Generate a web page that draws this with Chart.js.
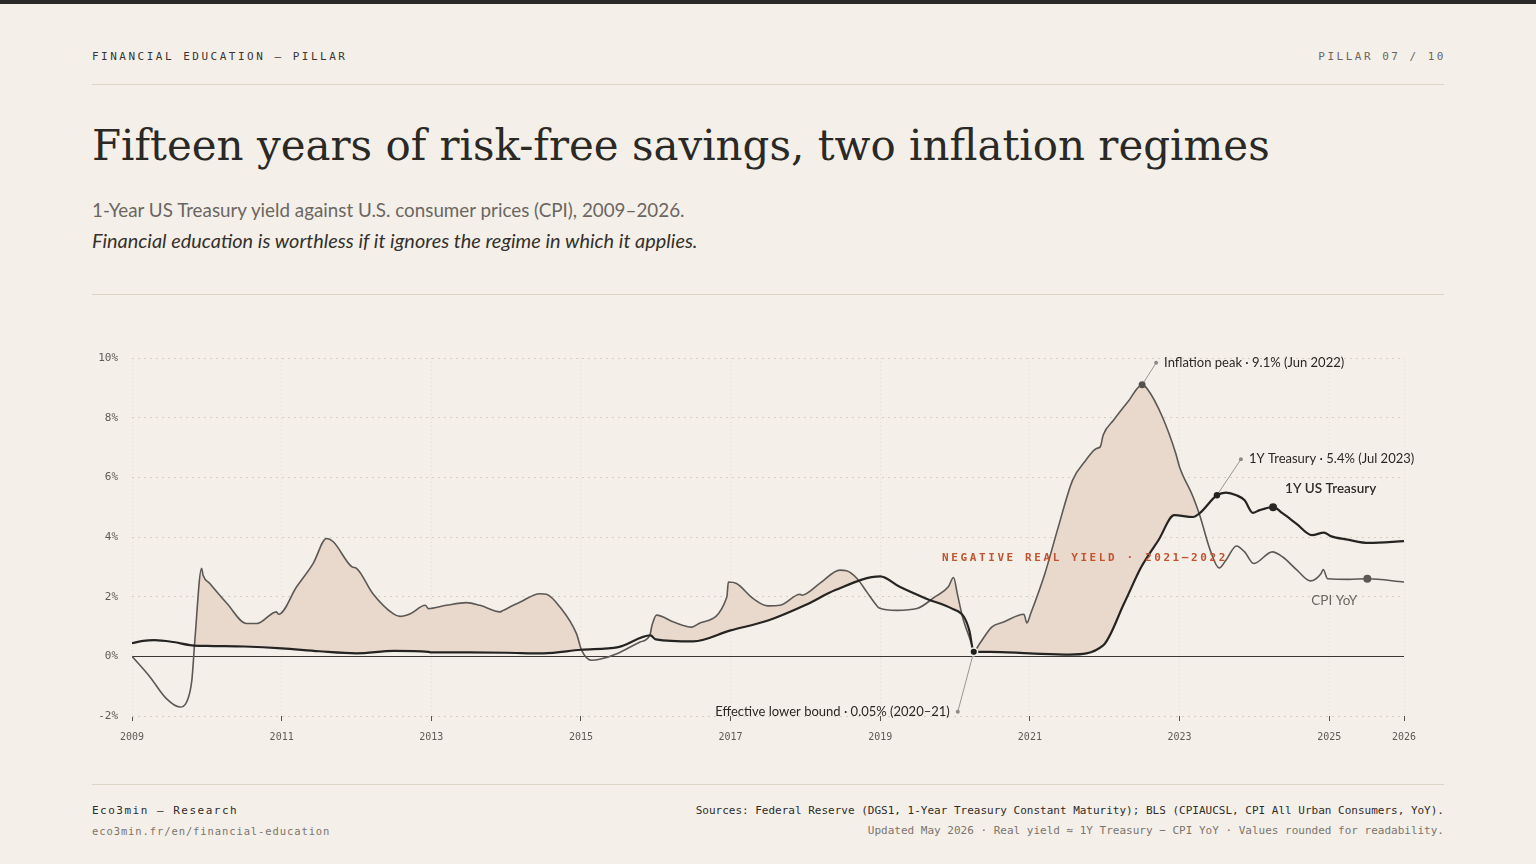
<!DOCTYPE html>
<html>
<head>
<meta charset="utf-8">
<script src="https://cdn.jsdelivr.net/npm/chart.js@4.4.1/dist/chart.umd.min.js"></script>
<style>
  html, body { margin:0; padding:0; }
  body { width:1536px; height:864px; background:#f4f0e9; position:relative; overflow:hidden; color:#2b2926; }
  .bar { position:absolute; left:0; top:0; width:1536px; height:4px; background:#2b2a28; }
  .abs { position:absolute; white-space:nowrap; }
  .mono { font-family:"DejaVu Sans Mono", monospace; }
  .rule { position:absolute; left:92px; width:1352px; height:1px; background:#dcd6c9; }
  #title { font-family:"DejaVu Serif", serif; font-size:44px; color:#2b2926; left:92px; top:116px; line-height:60px; }
  #sub1 { font-family:Lato, sans-serif; font-size:18px; color:#6b6661; left:92px; top:198px; line-height:24px; }
  #sub2 { font-family:Lato, sans-serif; font-style:italic; font-size:18px; color:#34302c; left:92px; top:228px; line-height:24px; }
  #chartBox { position:absolute; left:92px; top:330px; width:1352px; height:420px; }
</style>
</head>
<body>
<div class="bar"></div>
<div class="abs mono" style="left:92px; top:49px; line-height:16px; font-size:11px; letter-spacing:2.5px; color:#3a3632;">FINANCIAL EDUCATION — PILLAR</div>
<div class="abs mono" style="right:90px; top:49px; line-height:16px; font-size:11px; letter-spacing:2.5px; color:#6b6661;">PILLAR 07 / 10</div>
<div class="rule" style="top:84px;"></div>
<div id="title" class="abs" data-w="1178">Fifteen years of risk-free savings, two inflation regimes</div>
<div id="sub1" class="abs" data-w="593">1-Year US Treasury yield against U.S. consumer prices (CPI), 2009–2026.</div>
<div id="sub2" class="abs" data-w="606">Financial education is worthless if it ignores the regime in which it applies.</div>
<div class="rule" style="top:294px;"></div>
<div id="chartBox"><canvas id="c" width="1352" height="420"></canvas></div>
<div class="rule" style="top:784px;"></div>
<div class="abs mono" style="left:92px; top:803px; line-height:16px; font-size:11px; letter-spacing:1.5px; color:#2f2c29;">Eco3min — Research</div>
<div class="abs mono" style="left:92px; top:823px; line-height:16px; font-size:10.5px; letter-spacing:0.9px; color:#7a746d;">eco3min.fr/en/financial-education</div>
<div class="abs mono" style="right:92px; top:803px; line-height:16px; font-size:11px; color:#2f2c29;">Sources: Federal Reserve (DGS1, 1-Year Treasury Constant Maturity); BLS (CPIAUCSL, CPI All Urban Consumers, YoY).</div>
<div class="abs mono" style="right:92px; top:823px; line-height:16px; font-size:11px; color:#7a746d;">Updated May 2026 · Real yield ≈ 1Y Treasury − CPI YoY · Values rounded for readability.</div>

<script>
// ---------- DATA ----------
const xTickYears = [2009, 2011, 2013, 2015, 2017, 2019, 2021, 2023, 2025, 2026];
const yTicks = [-2, 0, 2, 4, 6, 8, 10];

const tsyX = [2009.00,2009.15,2009.30,2009.55,2009.80,2010.00,2010.50,2011.00,2011.50,2012.00,2012.50,2012.96,2013.00,2013.50,2014.00,2014.50,2015.00,2015.50,2015.93,2016.00,2016.50,2017.00,2017.50,2018.00,2018.40,2019.00,2019.26,2019.60,2019.96,2020.12,2020.19,2020.25,2020.47,2021.00,2021.53,2021.98,2022.26,2022.49,2022.72,2022.93,2023.18,2023.27,2023.50,2023.62,2023.76,2023.87,2023.98,2024.07,2024.25,2024.38,2024.56,2024.77,2024.93,2025.02,2025.25,2025.53,2026.00];
const tsyY = [0.44,0.52,0.54,0.48,0.37,0.35,0.33,0.27,0.17,0.10,0.18,0.15,0.13,0.13,0.12,0.10,0.22,0.31,0.70,0.57,0.50,0.87,1.20,1.72,2.22,2.68,2.33,1.95,1.60,1.32,0.87,0.15,0.15,0.10,0.06,0.37,1.78,3.00,3.90,4.73,4.67,4.80,5.40,5.49,5.40,5.23,4.81,4.90,5.00,4.79,4.45,4.06,4.15,4.03,3.91,3.80,3.86];

const cpiX = [2009.00,2009.24,2009.46,2009.64,2009.73,2009.80,2009.84,2009.93,2009.95,2010.04,2010.27,2010.53,2010.67,2010.93,2010.96,2011.20,2011.42,2011.60,2011.69,2011.94,2012.00,2012.22,2012.49,2012.58,2012.72,2012.92,2012.96,2013.20,2013.47,2013.65,2013.92,2013.96,2014.19,2014.45,2014.54,2014.72,2014.94,2015.01,2015.14,2015.25,2015.48,2015.79,2015.92,2015.95,2016.01,2016.24,2016.48,2016.59,2016.95,2016.97,2017.08,2017.30,2017.50,2017.66,2017.93,2017.95,2018.20,2018.46,2018.55,2018.69,2018.82,2018.95,2018.98,2019.22,2019.49,2019.73,2019.91,2019.98,2020.03,2020.10,2020.19,2020.26,2020.33,2020.49,2020.65,2020.92,2020.96,2021.01,2021.20,2021.38,2021.57,2021.75,2021.89,2021.94,2021.98,2022.12,2022.31,2022.50,2022.58,2022.77,2022.95,2023.00,2023.18,2023.27,2023.41,2023.53,2023.62,2023.76,2023.87,2023.99,2024.24,2024.38,2024.57,2024.75,2024.89,2024.92,2024.98,2025.26,2025.51,2026.00];
const cpiY = [0.00,-0.69,-1.42,-1.70,-1.53,-0.80,0.54,2.95,2.72,2.44,1.77,1.10,1.10,1.49,1.41,2.33,3.11,3.95,3.84,3.00,2.95,2.10,1.43,1.34,1.43,1.71,1.60,1.71,1.80,1.71,1.49,1.54,1.82,2.10,2.08,1.65,0.76,0.20,-0.13,-0.10,0.09,0.48,0.70,1.04,1.38,1.15,0.98,1.12,1.99,2.49,2.44,1.94,1.69,1.71,2.08,2.05,2.46,2.89,2.87,2.61,2.16,1.71,1.63,1.54,1.60,1.99,2.33,2.64,2.10,1.32,0.65,0.20,0.43,0.98,1.15,1.41,1.12,1.43,2.77,4.34,5.90,6.58,6.97,7.02,7.42,7.92,8.53,9.10,8.93,8.03,6.80,6.35,5.35,4.73,3.56,2.96,3.22,3.70,3.50,3.11,3.50,3.33,2.89,2.53,2.77,2.91,2.60,2.58,2.60,2.49];

// annotations: [x, y, label]
const noteInflationPeak = [2022.50, 9.10, "Inflation peak · 9.1% (Jun 2022)"];
const noteTreasuryPeak  = [2023.50, 5.40, "1Y Treasury · 5.4% (Jul 2023)"];
const noteLowerBound    = [2020.25, 0.15, "Effective lower bound · 0.05% (2020–21)"];
const labelTreasury = [2024.25, 5.00, "1Y US Treasury"];
const labelCpi      = [2025.51, 2.60, "CPI YoY"];
const regimeLabel   = "NEGATIVE REAL YIELD · 2021–2022";

// ---------- TEXT FIT ----------
document.querySelectorAll('[data-w]').forEach(el => {
  const target = parseFloat(el.dataset.w);
  const fs = parseFloat(getComputedStyle(el).fontSize);
  const w = el.getBoundingClientRect().width;
  el.style.fontSize = (fs * target / w).toFixed(2) + 'px';
});

// ---------- CHART ----------
const toPts = (xs, ys) => xs.map((x, i) => ({x, y: ys[i]}));

const overlay = {
  id: 'overlay',
  beforeDatasetsDraw(chart) {
    const {ctx, chartArea: a, scales: {y}} = chart;
    ctx.save();
    ctx.strokeStyle = '#3a3632';
    ctx.lineWidth = 1;
    const y0 = Math.round(y.getPixelForValue(0)) + 0.5;
    ctx.beginPath(); ctx.moveTo(a.left, y0); ctx.lineTo(a.right, y0); ctx.stroke();
    ctx.restore();
  },
  afterDatasetsDraw(chart) {
    const {ctx, scales: {x, y}} = chart;
    const P = (v) => [x.getPixelForValue(v[0]), y.getPixelForValue(v[1])];
    ctx.save();
    const dot = (px, py, r, fill, stroke) => {
      ctx.beginPath(); ctx.arc(px, py, r, 0, Math.PI * 2);
      ctx.fillStyle = fill; ctx.fill();
      if (stroke) { ctx.lineWidth = 1.5; ctx.strokeStyle = stroke; ctx.stroke(); }
    };
    const leader = (p, dx, dy) => {
      ctx.beginPath(); ctx.moveTo(p[0], p[1]); ctx.lineTo(p[0] + dx, p[1] + dy);
      ctx.strokeStyle = '#9a958f'; ctx.lineWidth = 1; ctx.stroke();
      dot(p[0] + dx, p[1] + dy, 2, '#8f8a84');
    };
    ctx.font = '13px Lato, "Noto Sans", sans-serif';
    ctx.textBaseline = 'middle';

    // inflation peak
    let p = P(noteInflationPeak);
    leader(p, 14, -22);
    dot(p[0], p[1], 3.5, '#55524e');
    ctx.fillStyle = '#2a2724'; ctx.textAlign = 'left';
    ctx.fillText(noteInflationPeak[2], p[0] + 22, p[1] - 22);

    // treasury peak
    p = P(noteTreasuryPeak);
    leader(p, 24, -36);
    dot(p[0], p[1], 3.2, '#23211f');
    ctx.fillStyle = '#2a2724'; ctx.textAlign = 'left';
    ctx.fillText(noteTreasuryPeak[2], p[0] + 32, p[1] - 36);

    // lower bound
    p = P(noteLowerBound);
    leader(p, -16, 60);
    dot(p[0], p[1], 3.8, '#1f1d1b', '#f4f0e9');
    ctx.fillStyle = '#2a2724'; ctx.textAlign = 'right';
    ctx.fillText(noteLowerBound[2], p[0] - 24, p[1] + 60);

    // series labels
    p = P(labelTreasury);
    dot(p[0], p[1], 4, '#2a2826');
    ctx.font = '600 13.5px Lato, "Noto Sans", sans-serif';
    ctx.fillStyle = '#2f2c29'; ctx.textAlign = 'left';
    ctx.fillText(labelTreasury[2], p[0] + 12, p[1] - 19);

    p = P(labelCpi);
    dot(p[0], p[1], 4, '#5b5855');
    ctx.font = '13.5px Lato, "Noto Sans", sans-serif';
    ctx.fillStyle = '#6b6661'; ctx.textAlign = 'left';
    ctx.fillText(labelCpi[2], p[0] - 56, p[1] + 22);

    // regime label
    ctx.font = 'bold 11px "DejaVu Sans Mono", monospace';
    ctx.letterSpacing = '2.6px';
    ctx.fillStyle = '#c2532f'; ctx.textAlign = 'left';
    ctx.fillText(regimeLabel, x.getPixelForValue(2020.0) - 13, y.getPixelForValue(3.3));
    ctx.restore();
  }
};

new Chart(document.getElementById('c'), {
  type: 'line',
  data: {
    datasets: [
      {
        label: '1Y US Treasury',
        data: toPts(tsyX, tsyY),
        borderColor: '#262422',
        borderWidth: 2.2,
        pointRadius: 0,
        cubicInterpolationMode: 'monotone',
        fill: false
      },
      {
        label: 'CPI YoY',
        data: toPts(cpiX, cpiY),
        borderColor: '#5b5855',
        borderWidth: 1.6,
        pointRadius: 0,
        cubicInterpolationMode: 'monotone',
        fill: { target: 0, above: '#e9d8cc', below: 'rgba(0,0,0,0)' }
      }
    ]
  },
  options: {
    responsive: false,
    animation: false,
    events: [],
    layout: { padding: { top: 28, right: 40, left: 0, bottom: 0 } },
    plugins: { legend: { display: false }, tooltip: { enabled: false } },
    scales: {
      x: {
        type: 'linear',
        min: 2009, max: 2026,
        afterBuildTicks: (s) => { s.ticks = xTickYears.map(v => ({ value: v })); },
        afterFit: (s) => { s.height = 34; },
        border: { display: false, dash: [1, 3] },
        grid: {
          color: 'rgba(60,50,40,0.10)',
          tickColor: '#55524e',
          tickLength: 5,
          tickBorderDash: [5, 0],
          tickWidth: 1
        },
        ticks: {
          autoSkip: false,
          maxRotation: 0,
          padding: 10,
          color: '#5f5a55',
          font: { family: '"DejaVu Sans Mono", monospace', size: 10 },
          callback: (v) => String(v)
        }
      },
      y: {
        min: -2, max: 10,
        afterBuildTicks: (s) => { s.ticks = yTicks.map(v => ({ value: v })); },
        afterFit: (s) => { s.width = 40; },
        border: { display: false, dash: [2, 4] },
        grid: {
          color: (c) => c.tick && c.tick.value === 0 ? 'rgba(0,0,0,0)' : '#d6cfbf',
          drawTicks: false
        },
        ticks: {
          padding: 14,
          color: '#5f5a55',
          font: { family: '"DejaVu Sans Mono", monospace', size: 11 },
          callback: (v) => v + '%'
        }
      }
    }
  },
  plugins: [overlay]
});
</script>
</body>
</html>
